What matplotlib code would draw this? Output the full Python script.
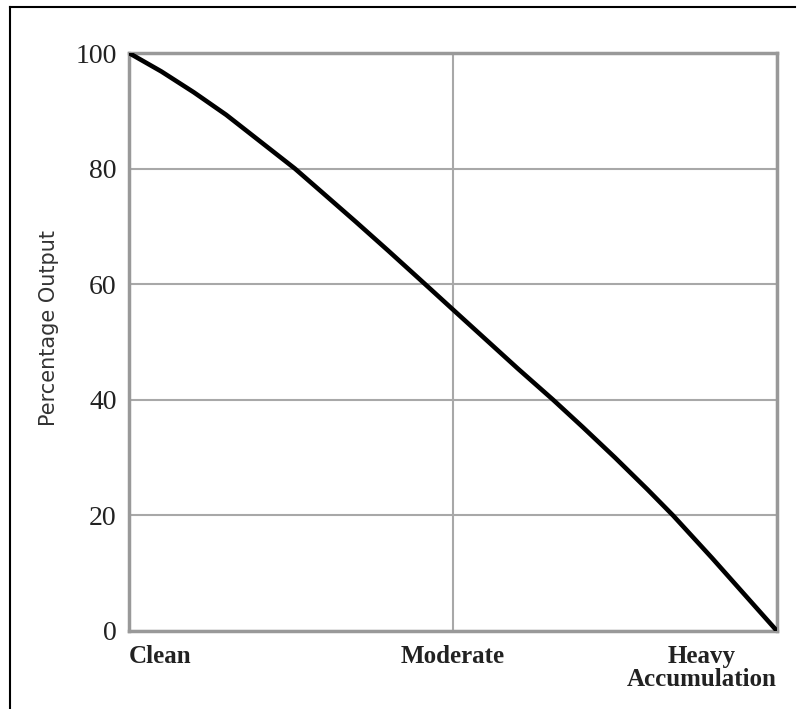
import matplotlib.pyplot as plt
from matplotlib.lines import Line2D

# Output vs. accumulation level (0 = Clean, 1 = Moderate, 2 = Heavy)
levels = [0, 0.1, 0.2, 0.3, 0.373, 0.512, 0.6, 0.7, 0.8, 0.914, 1.0, 1.1, 1.2,
          1.309, 1.4, 1.5, 1.6, 1.679, 1.8, 1.9, 2.0]
output = [100, 96.8, 93.2, 89.3, 86.1, 80, 75.7, 70.8, 65.8, 60, 55.6, 50.5, 45.4,
          40, 35.3, 30.0, 24.5, 20, 12.6, 6.3, 0]

tick_pos = [0, 1, 2]
tick_labels = ['Clean', 'Moderate', 'Heavy\nAccumulation']
y_ticks = [0, 20, 40, 60, 80, 100]

fig = plt.figure(figsize=(7.99, 7.09), dpi=100)
ax = fig.add_axes([129 / 799, 78 / 709, 648 / 799, 578 / 709])

ax.plot(levels, output, color='black', linewidth=3.3,
        solid_capstyle='round', solid_joinstyle='round', zorder=5)

ax.set_xlim(0, 2)
ax.set_ylim(0, 100)
ax.set_yticks(y_ticks)
ax.set_xticks(tick_pos)
ax.set_xticklabels(tick_labels, family='Liberation Serif', fontsize=18,
                   fontweight='bold', color='#222222', linespacing=1.0)
for lab, ha in zip(ax.get_xticklabels(), ['left', 'center', 'right']):
    lab.set_horizontalalignment(ha)
    lab.set_multialignment('center')
for lab in ax.get_yticklabels():
    lab.set_family('Liberation Serif')
    lab.set_fontsize(20)
    lab.set_color('#222222')

ax.tick_params(axis='both', length=0)
ax.tick_params(axis='y', pad=9)
ax.tick_params(axis='x', pad=10)

ax.grid(True, color='#a8a8a8', linewidth=1.5)
ax.set_axisbelow(True)
for sp in ax.spines.values():
    sp.set_color('#999999')
    sp.set_linewidth(2.5)

ax.set_ylabel('Percentage Output', family='DejaVu Sans', fontsize=15,
              color='#333333')
ax.yaxis.set_label_coords(-0.108, 0.524)

# partial frame around the figure (left and top edges)
fig.add_artist(Line2D([10 / 799, 10 / 799], [0, 1 - 7 / 709], color='black', linewidth=1.5))
fig.add_artist(Line2D([10 / 799, 795 / 799], [1 - 7 / 709, 1 - 7 / 709], color='black', linewidth=1.5))

fig.savefig('out.png', dpi=100)
